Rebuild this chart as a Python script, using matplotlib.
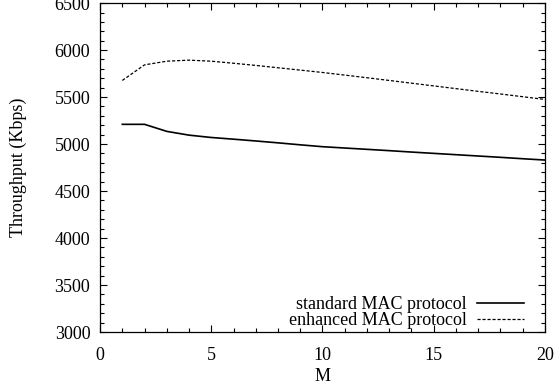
import matplotlib
matplotlib.use('Agg')
import matplotlib.pyplot as plt
from matplotlib.ticker import MultipleLocator

# valores
M = list(range(1, 21))
estandar = [5210, 5210, 5135, 5095, 5070, 5052, 5033, 5013, 4992, 4972,
            4958, 4944, 4930, 4915, 4901, 4887, 4873, 4859, 4844, 4830]
mejorado = [5677, 5843, 5882, 5893, 5882, 5860, 5837, 5812, 5787, 5762,
            5734, 5706, 5677, 5648, 5619, 5590, 5561, 5533, 5504, 5475]
etiquetas = ['standard MAC protocol', 'enhanced MAC protocol']

plt.rcParams['font.family'] = ['Liberation Serif', 'DejaVu Serif']
plt.rcParams['font.size'] = 13

fig = plt.figure(figsize=(5.56, 3.89), dpi=100)
ax = fig.add_axes([0.180, 0.1465, 0.800, 0.8455])

ax.plot(M, estandar, color='black', lw=1.2, label=etiquetas[0])
ax.plot(M, mejorado, color='black', lw=0.9, linestyle=(0, (2.5, 1.5)), label=etiquetas[1])

ax.set_xlim(0, 20)
ax.set_ylim(3000, 6500)
ax.xaxis.set_major_locator(MultipleLocator(5))
ax.xaxis.set_minor_locator(MultipleLocator(1))
ax.yaxis.set_major_locator(MultipleLocator(500))
ax.yaxis.set_minor_locator(MultipleLocator(100))
ax.tick_params(which='both', direction='in', top=True, right=True, width=0.8)
ax.tick_params(which='major', length=5, pad=7)
ax.tick_params(axis='x', which='major', pad=11)
ax.tick_params(which='minor', length=3)
for s in ax.spines.values():
    s.set_linewidth(0.9)

ax.set_xlabel('M', labelpad=3)
ax.set_ylabel('Throughput (Kbps)', labelpad=20)

ax.legend(loc='lower right', bbox_to_anchor=(0.982, -0.03), frameon=False,
          markerfirst=False, handlelength=2.6, handletextpad=0.6,
          labelspacing=-0.05, borderaxespad=0.3, fontsize=13)

fig.savefig('out.png', dpi=100)
